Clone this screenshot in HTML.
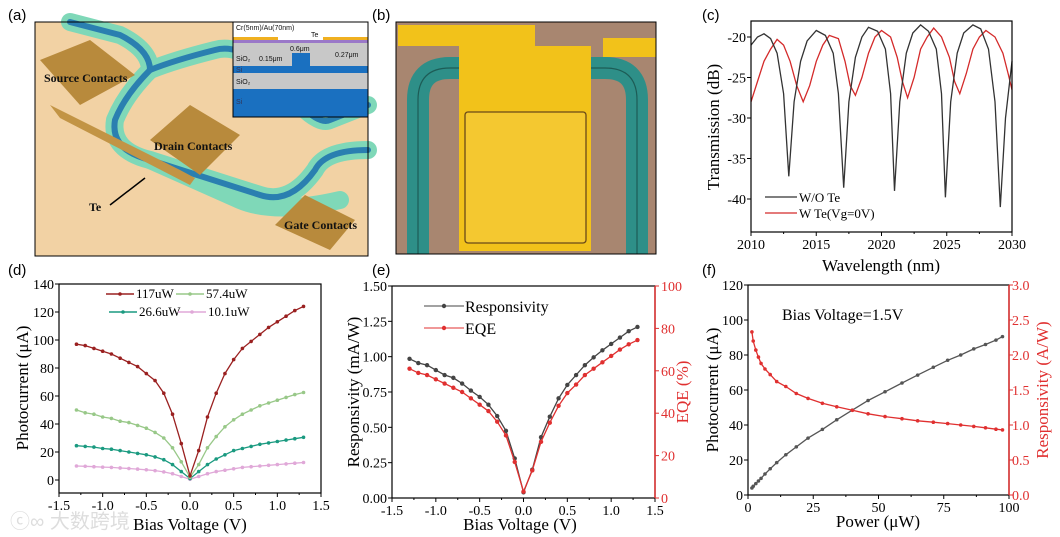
<!DOCTYPE html>
<html><head><meta charset="utf-8"><style>
html,body{margin:0;padding:0;background:#fff;}
svg{display:block;}
text{font-family:"Liberation Serif",serif;}
.sans{font-family:"Liberation Sans",sans-serif;}
</style></head><body>
<svg id="fig" width="1060" height="537" viewBox="0 0 1060 537" xmlns="http://www.w3.org/2000/svg">
<g class="sans" font-size="15" fill="#000">
<text x="8" y="20" class="sans">(a)</text>
<text x="372" y="20" class="sans">(b)</text>
<text x="702" y="20" class="sans">(c)</text>
<text x="8" y="275" class="sans">(d)</text>
<text x="372" y="275" class="sans">(e)</text>
<text x="702" y="275" class="sans">(f)</text>
</g>

<g>
<rect x="35" y="22" width="333" height="234" fill="#f2d2a4"/>
<g fill="none" stroke-linecap="round" stroke-linejoin="round">
<path d="M70 22 L120 35 Q150 50 150 70 Q175 60 215 50 Q250 40 300 105 Q320 125 330 120 L368 105" stroke="#7fd8b8" stroke-width="18"/>
<path d="M150 70 Q125 95 115 120 Q110 150 150 160 L260 195 Q290 205 315 170 Q325 150 368 150" stroke="#7fd8b8" stroke-width="18"/>
<path d="M150 160 L240 200 Q275 215 340 200" stroke="#7fd8b8" stroke-width="18"/>
<path d="M70 22 L120 35 Q150 50 150 70 Q175 60 215 50 Q250 40 300 105 Q320 125 330 120 L368 105" stroke="#2a7fb0" stroke-width="6"/>
<path d="M150 70 Q125 95 115 120 Q110 150 150 160 L260 195 Q290 205 315 170 Q325 150 368 150" stroke="#2a7fb0" stroke-width="6"/>
</g>
<polygon points="40,60 90,40 135,75 80,105" fill="#b88a3c"/>
<polygon points="50,105 180,170 195,178 190,185 60,118" fill="#c29445"/>
<polygon points="150,140 190,105 240,135 200,175" fill="#b88a3c"/>
<polygon points="275,225 305,195 355,220 330,250" fill="#b88a3c"/>
<line x1="110" y1="205" x2="145" y2="178" stroke="#000" stroke-width="1.5"/>
<g font-weight="bold" font-size="12" fill="#111">
<text x="44" y="82">Source Contacts</text>
<text x="154" y="150">Drain Contacts</text>
<text x="89" y="211">Te</text>
<text x="284" y="229">Gate Contacts</text>
</g>
<g>
<rect x="233" y="22" width="135" height="95" fill="#fff"/>
<rect x="233" y="37" width="45" height="3" fill="#f0b020"/>
<rect x="323" y="37" width="45" height="3" fill="#f0b020"/>
<rect x="233" y="40" width="135" height="3" fill="#9a78c8"/>
<rect x="233" y="43" width="135" height="23" fill="#c8c8c8"/>
<rect x="292" y="53" width="18" height="13" fill="#1a70c0"/>
<rect x="233" y="66" width="135" height="7" fill="#1a70c0"/>
<rect x="233" y="73" width="135" height="16" fill="#c8c8c8"/>
<rect x="233" y="89" width="135" height="28" fill="#1a70c0"/>
<rect x="233" y="22" width="135" height="95" fill="none" stroke="#000" stroke-width="1"/>
<g class="sans" font-size="7" fill="#111">
<text x="236" y="30" class="sans">Cr(5nm)/Au(70nm)</text>
<text x="311" y="37" class="sans">Te</text>
<text x="236" y="61" class="sans">SiO₂</text>
<text x="259" y="61" class="sans">0.15μm</text>
<text x="290" y="51" class="sans">0.6μm</text>
<text x="335" y="57" class="sans">0.27μm</text>
<text x="236" y="72" class="sans" fill="#335">Si</text>
<text x="236" y="84" class="sans">SiO₂</text>
<text x="236" y="104" class="sans" fill="#335">Si</text>
</g>
</g>
<rect x="35" y="22" width="333" height="234" fill="none" stroke="#000" stroke-width="1"/>
</g>

<g>
<rect x="396" y="22" width="260" height="232" fill="#a88670"/>
<g fill="none">
<path d="M418 254 L418 100 Q418 68 450 68 L605 68 Q637 68 637 100 L637 254" stroke="#2e8f88" stroke-width="22"/>
<path d="M418 254 L418 100 Q418 68 450 68 L605 68 Q637 68 637 100 L637 254" stroke="#1d5c56" stroke-width="1.2"/>
</g>
<polygon points="398,25 535,25 535,46 591,46 591,251 459,251 459,46 398,46" fill="#f2c21a"/>
<rect x="603" y="38" width="53" height="19" fill="#f2c21a"/>
<rect x="465" y="112" width="121" height="131" fill="#f4c830" stroke="#6a4a18" stroke-width="1.3" rx="3"/>
<rect x="396" y="22" width="260" height="232" fill="none" stroke="#000" stroke-width="1"/>
</g>

<g id="charts"></g>
<text x="10" y="528" font-size="20" fill="#ddd" class="sans">ⓒ∞ 大数跨境</text>
</svg>
<script>
const cWlBlack=[2010,2010.5,2011,2011.5,2012,2012.5,2012.9,2013.3,2013.8,2014.3,2015,2015.7,2016.3,2016.7,2017.1,2017.5,2018,2018.5,2019,2019.7,2020.3,2020.7,2021,2021.4,2021.9,2022.4,2023,2023.6,2024.2,2024.6,2024.9,2025.3,2025.8,2026.3,2027,2027.6,2028.2,2028.7,2029.1,2029.5,2030];
const cTxBlack=[-21,-20,-19.6,-20.2,-22,-27,-37.2,-28,-23,-20.5,-19.2,-19.8,-22,-27,-38.6,-28,-22.5,-20,-18.8,-19.3,-21.5,-27,-39,-28,-22,-19.5,-18.5,-19.3,-21.5,-27,-39.8,-28,-22,-19.5,-18.5,-19,-21.5,-28,-41,-30,-23];
const cWlRed=[2010,2010.5,2011,2011.5,2012,2012.5,2013,2013.5,2014,2014.5,2015,2015.5,2016,2016.7,2017.2,2017.6,2018,2018.5,2019,2019.5,2020,2020.7,2021.2,2021.6,2022,2022.5,2023,2023.5,2024,2024.6,2025.2,2025.6,2026,2026.5,2027,2027.5,2028,2028.7,2029.3,2029.7,2030];
const cTxRed=[-28,-25.5,-23,-21.5,-20.3,-21,-23,-26,-28,-26,-23,-21,-19.8,-20.2,-23,-26,-27.2,-25,-22,-20,-19.2,-20,-22.5,-25.5,-27.5,-25,-21.5,-20,-18.9,-20,-22.5,-25.5,-27,-24.5,-21.5,-20,-19.2,-20,-22,-24.5,-26.5];
const cXTicks=[2010,2015,2020,2025,2030];
const cYTicks=[-20,-25,-30,-35,-40];
const dBias=[-1.3,-1.2,-1.1,-1.0,-0.9,-0.8,-0.7,-0.6,-0.5,-0.4,-0.3,-0.2,-0.1,0,0.1,0.2,0.3,0.4,0.5,0.6,0.7,0.8,0.9,1.0,1.1,1.2,1.3];
const dI117=[97,96,94,92,90,87,84,81,76,71,62,47,26,3,21,45,62,76,86,94,99,104,109,113,117,121,124];
const dI57=[50,48,47,45,44,42,41,39,37,34,30,23,13,2,11,23,31,38,43,47,50,53,55,57,59,61,62.5];
const dI26=[24.5,24,23.5,22.5,22,21,20,19,18,16.5,14.5,11,6,1,6,11,15,18,21,22.5,24,25.5,26.5,27.5,28.5,29.5,30.5];
const dI10=[10,9.8,9.5,9.2,9,8.6,8.2,7.8,7.3,6.7,5.8,4.5,2.5,0.5,2.5,4.5,6,7,8,9,9.5,10,10.5,11,11.5,12,12.5];
const dXTicks=[-1.5,-1.0,-0.5,0.0,0.5,1.0,1.5];
const dYTicks=[0,20,40,60,80,100,120,140];
const eBias=[-1.3,-1.2,-1.1,-1.0,-0.9,-0.8,-0.7,-0.6,-0.5,-0.4,-0.3,-0.2,-0.1,0,0.1,0.2,0.3,0.4,0.5,0.6,0.7,0.8,0.9,1.0,1.1,1.2,1.3];
const eResp=[0.985,0.955,0.94,0.905,0.87,0.85,0.81,0.76,0.715,0.66,0.58,0.475,0.28,0.04,0.2,0.43,0.575,0.705,0.8,0.87,0.94,0.995,1.045,1.09,1.135,1.18,1.21];
const eEQE=[61,59,58,56,54,52,50,47,44,41,36,29.5,17,3,13,26.5,35.5,43.5,49.5,53.5,58,61,64,67,70,72.5,74.5];
const eXTicks=[-1.5,-1.0,-0.5,0.0,0.5,1.0,1.5];
const eYTicks=[0.00,0.25,0.50,0.75,1.00,1.25,1.50];
const eY2Ticks=[0,20,40,60,80,100];
const fPower=[1.5,2,3,4,5,6.5,8.5,11,14.5,18.5,23,28.5,34,40,46,52.5,59,65,71,76.5,81.5,86.5,91,95,97.5];
const fCurrent=[4,5,6.5,8,9.5,12,15,18.5,23,27.5,32.5,37.5,43,48.5,54,59,64,68.5,73,77,80,83.5,86,88.5,90.5];
const fResp=[2.33,2.2,2.07,1.97,1.88,1.8,1.72,1.62,1.55,1.45,1.38,1.31,1.26,1.21,1.16,1.12,1.09,1.06,1.04,1.02,1.0,0.98,0.96,0.94,0.93];
const fXTicks=[0,25,50,75,100];
const fYTicks=[0,20,40,60,80,100,120];
const fY2Ticks=[0.0,0.5,1.0,1.5,2.0,2.5,3.0];

const NS="http://www.w3.org/2000/svg";
const root=document.getElementById('charts');
function mk(tag,attrs,parent){const e=document.createElementNS(NS,tag);for(const k in attrs)e.setAttribute(k,attrs[k]);(parent||root).appendChild(e);return e;}
function scale(d0,d1,r0,r1){return v=>r0+(v-d0)*(r1-r0)/(d1-d0);}
function fmt(v,dec){return dec===null?String(v):v.toFixed(dec);}

function axes(g,box,xs,ys,xt,yt,xdec,ydec){
  mk('rect',{x:box.x0,y:box.y0,width:box.x1-box.x0,height:box.y1-box.y0,fill:'none',stroke:'#000','stroke-width':1.2},g);
  xt.forEach((t,i)=>{const x=xs(t);
    mk('line',{x1:x,y1:box.y1,x2:x,y2:box.y1+4,stroke:'#000'},g);
    if(i<xt.length-1){const xm=xs((t+xt[i+1])/2);mk('line',{x1:xm,y1:box.y1,x2:xm,y2:box.y1+2,stroke:'#000'},g);}
    const tx=mk('text',{x:x,y:box.y1+17,'font-size':14,'text-anchor':'middle'},g);tx.textContent=fmt(t,xdec);
    
    
  });
  yt.forEach((t)=>{const y=ys(t);
    mk('line',{x1:box.x0,y1:y,x2:box.x0-4,y2:y,stroke:'#000'},g);
    const tx=mk('text',{x:box.x0-5,y:y+5,'font-size':14,'text-anchor':'end'},g);tx.textContent=fmt(t,ydec);
    
    
  });
}
function series(g,xs,ys,X,Y,color,marker,name){
  const s=mk('g',{},g);
  
  
  mk('polyline',{points:X.map((x,i)=>xs(x).toFixed(1)+','+ys(Y[i]).toFixed(1)).join(' '),fill:'none',stroke:color,'stroke-width':1.3},s);
  if(marker){X.forEach((x,i)=>{const c=mk('circle',{cx:xs(x),cy:ys(Y[i]),r:marker,fill:color},s);
    
    });}
}
function label(g,x,y,txt,size,rot,color,name){
  const t=mk('text',{x:x,y:y,'font-size':size,'text-anchor':'middle',fill:color||'#000'},g);
  if(rot)t.setAttribute('transform','rotate(-90 '+x+' '+y+')');
  t.textContent=txt;
  
  
  return t;
}

(function(){
  const g=mk('g',{});
  const b={x0:751,x1:1012,y0:21,y1:232};
  const xs=scale(2010,2030,b.x0,b.x1), ys=scale(-20,-40,37,199);
  series(g,xs,ys,cWlRed,cTxRed,'#d42a2a',0,'series-w-te');
  series(g,xs,ys,cWlBlack,cTxBlack,'#333',0,'series-wo-te');
  axes(g,b,xs,ys,cXTicks,cYTicks,null,null);
  label(g,881,271,'Wavelength (nm)',17,false,null,'x-axis-title');
  label(g,719,127,'Transmission (dB)',17,true,null,'y-axis-title');
  mk('line',{x1:765,y1:197,x2:797,y2:197,stroke:'#333','stroke-width':1.3},g);
  mk('line',{x1:765,y1:213,x2:797,y2:213,stroke:'#d42a2a','stroke-width':1.3},g);
  const l1=mk('text',{x:799,y:202,'font-size':13},g);l1.textContent='W/O Te';
  
  const l2=mk('text',{x:799,y:218,'font-size':13},g);l2.textContent='W Te(Vg=0V)';
  
})();

(function(){
  const g=mk('g',{});
  const b={x0:59,x1:321,y0:284,y1:493};
  const xs=scale(-1.5,1.5,b.x0,b.x1), ys=scale(0,140,480,284);
  series(g,xs,ys,dBias,dI10,'#e0a8d8',1.8,'series-10uw');
  series(g,xs,ys,dBias,dI26,'#1a9a80',1.8,'series-26uw');
  series(g,xs,ys,dBias,dI57,'#98c888',1.8,'series-57uw');
  series(g,xs,ys,dBias,dI117,'#9a2020',1.8,'series-117uw');
  axes(g,b,xs,ys,dXTicks,dYTicks,1,null);
  label(g,190,530,'Bias Voltage (V)',17,false,null,'x-axis-title');
  label(g,28,388,'Photocurrent (μA)',17,true,null,'y-axis-title');
  const leg=[[106,298,'#9a2020','117uW'],[176,298,'#98c888','57.4uW'],[109,316,'#1a9a80','26.6uW'],[178,316,'#e0a8d8','10.1uW']];
  leg.forEach(L=>{mk('line',{x1:L[0],y1:L[1]-4,x2:L[0]+28,y2:L[1]-4,stroke:L[2],'stroke-width':1.5},g);
    mk('circle',{cx:L[0]+14,cy:L[1]-4,r:1.8,fill:L[2]},g);
    const t=mk('text',{x:L[0]+30,y:L[1],'font-size':13},g);t.textContent=L[3];
    });
})();

(function(){
  const g=mk('g',{});
  const b={x0:392,x1:655,y0:286,y1:498};
  const xs=scale(-1.5,1.5,b.x0,b.x1), ys=scale(0,1.5,b.y1,b.y0), ys2=scale(0,100,b.y1,b.y0);
  series(g,xs,ys,eBias,eResp,'#444',2.2,'series-responsivity');
  series(g,xs,ys2,eBias,eEQE,'#e03030',2.2,'series-eqe');
  axes(g,b,xs,ys,eXTicks,eYTicks,1,2);
  mk('line',{x1:b.x1,y1:b.y0,x2:b.x1,y2:b.y1,stroke:'#e03030','stroke-width':1.5},g);
  eY2Ticks.forEach(t=>{const y=ys2(t);mk('line',{x1:b.x1,y1:y,x2:b.x1+4,y2:y,stroke:'#e03030'},g);
    const tx=mk('text',{x:b.x1+6,y:y+5,'font-size':14,fill:'#e03030'},g);tx.textContent=t;
    });
  label(g,520,530,'Bias Voltage (V)',17,false,null,'x-axis-title');
  label(g,359,392,'Responsivity (mA/W)',17,true,null,'y-axis-title');
  label(g,688,392,'EQE (%)',17,true,'#e03030','y2-axis-title');
  mk('line',{x1:424,y1:306,x2:464,y2:306,stroke:'#444'},g);mk('circle',{cx:444,cy:306,r:2.2,fill:'#444'},g);
  mk('line',{x1:424,y1:328,x2:464,y2:328,stroke:'#e03030'},g);mk('circle',{cx:444,cy:328,r:2.2,fill:'#e03030'},g);
  const t1=mk('text',{x:465,y:312,'font-size':16},g);t1.textContent='Responsivity';
  
  const t2=mk('text',{x:465,y:334,'font-size':16},g);t2.textContent='EQE';
  
})();

(function(){
  const g=mk('g',{});
  const b={x0:748,x1:1009,y0:285,y1:495};
  const xs=scale(0,100,b.x0,b.x1), ys=scale(0,120,b.y1,b.y0), ys2=scale(0,3,b.y1,b.y0);
  series(g,xs,ys,fPower,fCurrent,'#555',1.8,'series-photocurrent');
  series(g,xs,ys2,fPower,fResp,'#e03030',1.8,'series-responsivity');
  axes(g,b,xs,ys,fXTicks,fYTicks,null,null);
  mk('line',{x1:b.x1,y1:b.y0,x2:b.x1,y2:b.y1,stroke:'#e03030','stroke-width':1.5},g);
  fY2Ticks.forEach(t=>{const y=ys2(t);mk('line',{x1:b.x1,y1:y,x2:b.x1+4,y2:y,stroke:'#e03030'},g);
    const tx=mk('text',{x:b.x1+3,y:y+5,'font-size':14,fill:'#e03030'},g);tx.textContent=t.toFixed(1);
    });
  label(g,878,527,'Power (μW)',17,false,null,'x-axis-title');
  label(g,718,390,'Photocurrent (μA)',17,true,null,'y-axis-title');
  label(g,1048,390,'Responsivity (A/W)',17,true,'#e03030','y2-axis-title');
  const t=mk('text',{x:782,y:320,'font-size':16},g);t.textContent='Bias Voltage=1.5V';
  
})();
</script>
</body></html>
